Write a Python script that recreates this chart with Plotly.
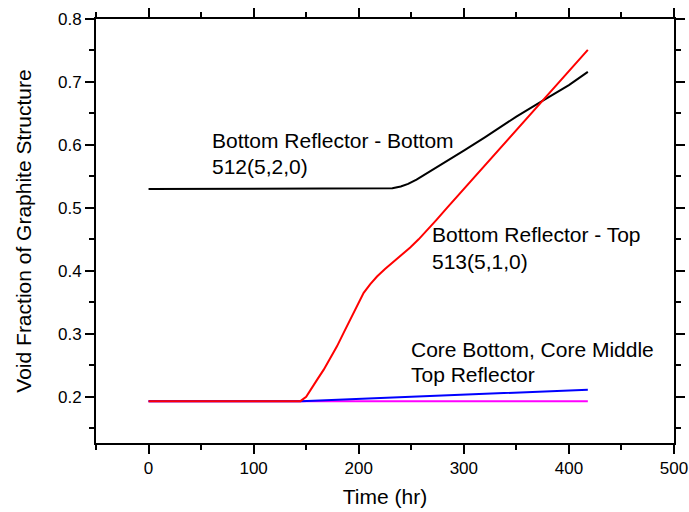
import plotly.graph_objects as go

# Data
black_x = [0, 100, 200, 225, 232, 240, 247, 255, 265, 275, 285, 300, 320, 350, 376, 400, 418]
black_y = [0.530, 0.530, 0.530, 0.530, 0.531, 0.534, 0.538, 0.545, 0.555, 0.565, 0.575, 0.591, 0.612, 0.645, 0.671, 0.695, 0.716]

red_x = [0, 100, 144.5, 150, 155, 160, 166.7, 173, 179.3, 185.5, 192, 198, 204.7, 211, 217.4, 225, 233, 241, 249, 257, 265, 274, 284, 300, 325, 350, 376, 418]
red_y = [0.193, 0.193, 0.193, 0.200, 0.212, 0.226, 0.243, 0.261, 0.280, 0.301, 0.322, 0.343, 0.365, 0.379, 0.391, 0.403, 0.414, 0.425, 0.437, 0.450, 0.464, 0.481, 0.500, 0.530, 0.577, 0.624, 0.672, 0.751]

blue_x = [0, 145, 250, 350, 418]
blue_y = [0.193, 0.193, 0.200, 0.206, 0.211]

mag_x = [0, 418]
mag_y = [0.193, 0.193]

labels = [
    ("Bottom Reflector - Bottom", 59, 0.607),
    ("512(5,2,0)", 59, 0.566),
    ("Bottom Reflector - Top", 268.7, 0.457),
    ("513(5,1,0)", 268.7, 0.415),
    ("Core Bottom, Core Middle", 249, 0.2746),
    ("Top Reflector", 249, 0.235),
]

FONT = "Liberation Sans, Arial, sans-serif"

fig = go.Figure()
fig.add_trace(go.Scatter(x=mag_x, y=mag_y, mode="lines", line=dict(color="#ff00ff", width=2)))
fig.add_trace(go.Scatter(x=blue_x, y=blue_y, mode="lines", line=dict(color="#0000ff", width=2)))
fig.add_trace(go.Scatter(x=black_x, y=black_y, mode="lines", line=dict(color="#000000", width=2)))
fig.add_trace(go.Scatter(x=red_x, y=red_y, mode="lines", line=dict(color="#ff0000", width=2)))

for text, x, y in labels:
    fig.add_annotation(x=x, y=y, text=text, showarrow=False, xanchor="left", yanchor="middle",
                       xshift=-1, font=dict(family=FONT, size=21, color="black"))

axis_common = dict(
    showline=True, linewidth=2, linecolor="black", mirror="ticks",
    ticks="outside", ticklen=9, tickwidth=1.5, tickcolor="black",
    showgrid=False, zeroline=False, automargin=False,
    tickfont=dict(family=FONT, size=17, color="black"),
)

fig.update_layout(
    width=689, height=512,
    margin=dict(l=96, r=15, t=19, b=69),
    paper_bgcolor="white", plot_bgcolor="white",
    showlegend=False,
    font=dict(family=FONT),
    xaxis=dict(range=[-50, 500], tickmode="array", tickvals=[0, 100, 200, 300, 400, 500],
               minor=dict(tickvals=[-50, 50, 150, 250, 350, 450], ticklen=5, tickwidth=1.5, tickcolor="black", ticks="outside"),
               title=dict(text="Time (hr)", font=dict(family=FONT, size=21, color="black"), standoff=12),
               **axis_common),
    yaxis=dict(range=[0.1265, 0.8], tickmode="array", tickvals=[0.2, 0.3, 0.4, 0.5, 0.6, 0.7, 0.8],
               ticktext=["0.2", "0.3", "0.4", "0.5", "0.6", "0.7", "0.8"],
               minor=dict(tickvals=[0.15, 0.25, 0.35, 0.45, 0.55, 0.65, 0.75], ticklen=5, tickwidth=1.5, tickcolor="black", ticks="outside"),
               title=dict(text="Void Fraction of Graphite Structure", font=dict(family=FONT, size=21, color="black"), standoff=21),
               **axis_common),
)

fig.write_html("out.html", config={"displayModeBar": False},
               post_script="document.body.style.margin='0';document.body.style.overflow='hidden';")
